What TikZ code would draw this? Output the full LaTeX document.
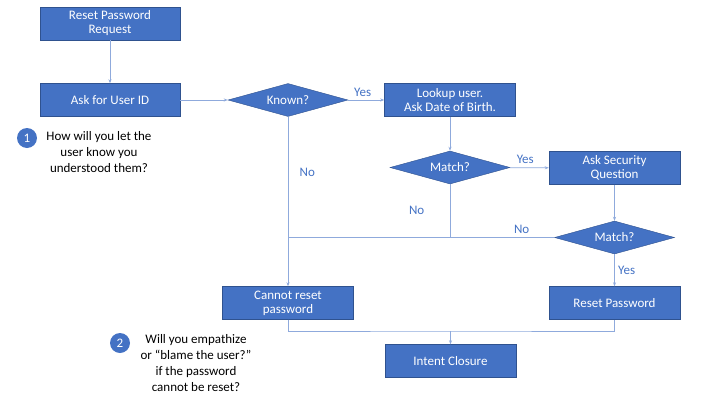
\documentclass[tikz,border=0pt]{standalone}
\usepackage{fontspec}
\setmainfont{Carlito}
\usetikzlibrary{shapes.geometric}
\usetikzlibrary{arrows.meta}
\definecolor{boxblue}{HTML}{4472C4}
\definecolor{lineblue}{HTML}{8FAADC}
\definecolor{edgeblue}{HTML}{2F528F}
\tikzset{step box/.style={draw=edgeblue,fill=boxblue,text=white,
                          minimum width=140pt,minimum height=33pt,
                          align=center,font=\fontsize{13}{14}\selectfont,inner sep=1pt}}
\tikzset{test/.style={diamond,draw=edgeblue,fill=boxblue,text=white,aspect=3.8,
                      minimum width=120pt,minimum height=33pt,inner sep=0pt,
                      font=\fontsize{13}{14}\selectfont}}
\tikzset{flow/.style={draw=lineblue,line width=0.8pt,-{Stealth[length=4pt,width=3pt]}}}
\tikzset{link/.style={draw=lineblue,line width=0.8pt}}
\tikzset{answer/.style={text=boxblue,font=\fontsize{13}{14}\selectfont}}
\tikzset{badge/.style={circle,fill=boxblue,text=white,minimum size=20pt,inner sep=0pt,
                       font=\fontsize{13}{14}\selectfont}}
\tikzset{note/.style={align=center,font=\fontsize{13}{16}\selectfont}}

\begin{document}
\begin{tikzpicture}[x=1pt,y=-1pt]
  \useasboundingbox (0,0) rectangle (709,407);

  % steps
  \node [step box] (request) at (110,23.5) {Reset Password\\Request};
  \node [step box] (askid) at (110,100) {Ask for User ID};
  \node [test] (known) at (288,100) {Known?};
  \node [step box,minimum width=131pt] (lookup) at (450,100) {Lookup user.\\Ask Date of Birth.};
  \node [test] (match1) at (450,167.5) {Match?};
  \node [step box,minimum width=131pt] (question) at (614.5,168) {Ask Security\\Question};
  \node [test] (match2) at (614.5,237.5) {Match?};
  \node [step box,minimum width=131pt] (cannot) at (288,303) {Cannot reset\\password};
  \node [step box,minimum width=131pt] (reset) at (614.5,303) {Reset Password};
  \node [step box,minimum width=131pt] (closure) at (450.5,361) {Intent Closure};

  % joins
  \coordinate (nojoin) at (288,237.5);
  \coordinate (m1join) at (450,237.5);
  \coordinate (endjoin) at (450.5,331);

  % edges
  \path [flow] (request) -- (askid);
  \path [flow] (askid) -- (known);
  \path [flow] (known) -- node [answer,above,pos=0.4] {Yes} (lookup);
  \path [flow] (lookup) -- (match1);
  \path [flow] (match1) -- node [answer,above,pos=0.4] {Yes} (question);
  \path [flow] (question) -- (match2);
  \path [flow] (match2) -- node [answer,right,pos=0.5] {Yes} (reset);
  \path [flow] (known) -- node [answer,right,pos=0.33,xshift=8pt] {No} (cannot);
  \path [link] (match1) -- node [answer,left,pos=0.5,xshift=-22pt] {No} (m1join);
  \path [link] (match2) -- node [answer,above,pos=0.1,xshift=-6pt] {No} (nojoin);
  \path [link] (cannot.south) |- (endjoin) -| (reset.south);
  \path [flow] (endjoin) -- (closure);

  % notes
  \node [badge] (one) at (27,138) {1};
  \node [note,anchor=north] (noteone) at (99,128) {How will you let the\\user know you\\understood them?};
  \node [badge] (two) at (120,343) {2};
  \node [note,anchor=north] (notetwo) at (196,331) {Will you empathize\\or “blame the user?”\\if the password\\cannot be reset?};
\end{tikzpicture}
\end{document}
